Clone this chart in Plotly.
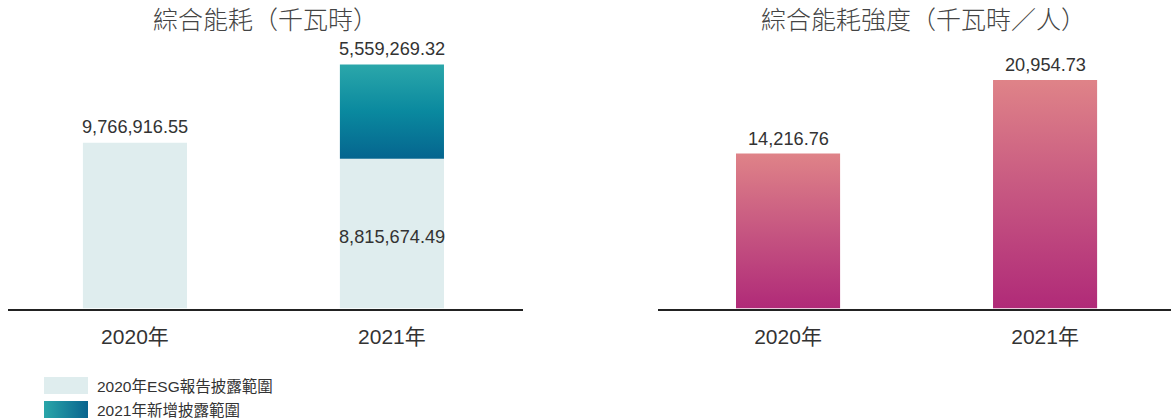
import base64
import plotly.graph_objects as go

# ---------------- data ----------------
years = ["2020年", "2021年"]
energy_base = [9766916.55, 8815674.49]      # 2020年ESG報告披露範圍
energy_new = [None, 5559269.32]             # 2021年新增披露範圍
intensity = [14216.76, 20954.73]            # 綜合能耗強度
titles = ["綜合能耗（千瓦時）", "綜合能耗強度（千瓦時／人）"]
legend_names = ["2020年ESG報告披露範圍", "2021年新增披露範圍"]

# ---------------- style ----------------
W, H = 1171, 419
FONT = "Liberation Sans, Noto Sans CJK TC, sans-serif"
TXT = "#333333"
LIGHT = "#DFEDEE"
TEAL_SCALE = [[0, "#05658F"], [0.5, "#0A899F"], [1, "#2BA7AA"]]
PINK_SCALE = [[0, "#B02A78"], [0.5, "#C65681"], [1, "#DF8388"]]
BW = 0.405

def px(x):
    return x / W

def py(y):
    return 1 - y / H

fig = go.Figure()

xs = list(range(len(years)))

# light base bars (left chart)
fig.add_trace(go.Bar(
    x=xs, y=energy_base, width=BW, marker=dict(color=LIGHT, line=dict(width=0)),
    xaxis="x", yaxis="y", hoverinfo="skip", showlegend=False,
))

def grad_bar(i, base, top, scale, xa, ya):
    x0, x1 = i - BW / 2, i + BW / 2
    fig.add_trace(go.Scatter(
        x=[x0, x1, x1, x0, x0], y=[base, base, top, top, base],
        mode="lines", line=dict(width=0), fill="toself",
        fillgradient=dict(type="vertical", colorscale=scale),
        xaxis=xa, yaxis=ya, hoverinfo="skip", showlegend=False,
    ))

# new scope (stacked on base)
for i, v in enumerate(energy_new):
    if v is not None:
        grad_bar(i, energy_base[i], energy_base[i] + v, TEAL_SCALE, "x", "y")

# intensity bars (right chart)
for i, v in enumerate(intensity):
    grad_bar(i, 0, v, PINK_SCALE, "x2", "y2")

# ---------------- labels ----------------
ann = []
lab_font = dict(family=FONT, size=18.2, color=TXT)
for i, v in enumerate(energy_base):
    if energy_new[i] is None:
        ann.append(dict(x=i, y=v, xref="x", yref="y", text=f"{v:,.2f}",
                        showarrow=False, yshift=16, font=lab_font))
    else:
        ann.append(dict(x=i, y=v / 2, xref="x", yref="y", text=f"{v:,.2f}",
                        showarrow=False, yshift=-3, font=lab_font))
for i, v in enumerate(energy_new):
    if v is not None:
        ann.append(dict(x=i, y=energy_base[i] + v, xref="x", yref="y",
                        text=f"{v:,.2f}", showarrow=False, yshift=15,
                        font=lab_font))
for i, v in enumerate(intensity):
    ann.append(dict(x=i, y=v, xref="x2", yref="y2", text=f"{v:,.2f}",
                    showarrow=False, yshift=15, font=lab_font))

# titles
title_font = dict(family=FONT, size=25, color="#444444", weight=300)
ann.append(dict(x=px(265.5), y=py(20), xref="paper", yref="paper", text=titles[0],
                showarrow=False, xanchor="center", yanchor="middle", font=title_font))
ann.append(dict(x=px(923), y=py(20), xref="paper", yref="paper", text=titles[1],
                showarrow=False, xanchor="center", yanchor="middle", font=title_font))

# legend (manual)
leg_font = dict(family=FONT, size=15.5, color=TXT)
ann.append(dict(x=px(95), y=py(386), xref="paper", yref="paper", text=legend_names[0],
                showarrow=False, xanchor="left", yanchor="middle", font=leg_font))
ann.append(dict(x=px(95), y=py(410), xref="paper", yref="paper", text=legend_names[1],
                showarrow=False, xanchor="left", yanchor="middle", font=leg_font))

shapes = [dict(type="rect", xref="paper", yref="paper", x0=px(44), x1=px(88),
               y0=py(394), y1=py(377), fillcolor=LIGHT, line=dict(width=0))]

svg = ('<svg xmlns="http://www.w3.org/2000/svg" width="44" height="17" preserveAspectRatio="none">'
       '<defs><linearGradient id="g" x1="0" x2="1" y1="0" y2="0">'
       '<stop offset="0" stop-color="#2AA6A9"/><stop offset="1" stop-color="#08648F"/>'
       '</linearGradient></defs><rect width="44" height="17" fill="url(#g)"/></svg>')
src = "data:image/svg+xml;base64," + base64.b64encode(svg.encode()).decode()
images = [dict(source=src, xref="paper", yref="paper", x=px(44), y=py(401),
               sizex=44 / W, sizey=17 / H, sizing="stretch", xanchor="left",
               yanchor="top", layer="above")]

# ---------------- axes ----------------
plot_top, plot_bottom = 40, 308.5
ydom = [py(plot_bottom), py(plot_top)]
hpx = plot_bottom - plot_top
R1 = hpx / 16.98e-6
R2 = hpx / 0.0109

xcommon = dict(tickvals=xs, ticktext=years, showgrid=False, zeroline=False,
               showline=True, linecolor="#222222", linewidth=1.5, ticks="",
               tickfont=dict(family=FONT, size=21, color=TXT),
               ticklabelstandoff=9, fixedrange=True)
ycommon = dict(visible=False, showgrid=False, zeroline=False, fixedrange=True)

fig.update_layout(
    width=W, height=H,
    margin=dict(l=0, r=0, t=0, b=0),
    paper_bgcolor="white", plot_bgcolor="white",
    showlegend=False, barmode="overlay",
    font=dict(family=FONT, color=TXT),
    xaxis=dict(domain=[px(8), px(523)], range=[-0.494, 1.51], anchor="y", **xcommon),
    yaxis=dict(domain=ydom, range=[0, R1], anchor="x", **ycommon),
    xaxis2=dict(domain=[px(658), 1], range=[-0.506, 1.49], anchor="y2", **xcommon),
    yaxis2=dict(domain=ydom, range=[0, R2], anchor="x2", **ycommon),
    annotations=ann, shapes=shapes, images=images,
)

fig.write_html("out.html", config=dict(displayModeBar=False),
               post_script="document.body.style.margin='0';")
